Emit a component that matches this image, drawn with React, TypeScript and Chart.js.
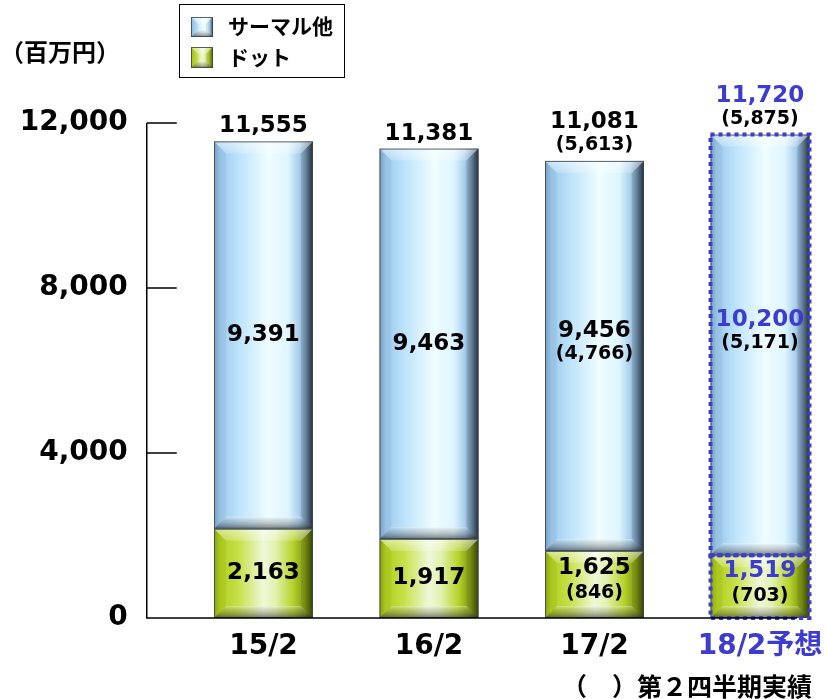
import React, { useEffect, useRef } from 'react';
import { Chart, registerables } from 'chart.js';
Chart.register(...registerables);

const categories = ['15/2', '16/2', '17/2', '18/2予想'];
const dotValues = [2163, 1917, 1625, 1519];
const thermalValues = [9391, 9463, 9456, 10200];
const totalValues = [11555, 11381, 11081, 11720];
const dotQ2: (number | null)[] = [null, null, 846, 703];
const thermalQ2: (number | null)[] = [null, null, 4766, 5171];
const totalQ2: (number | null)[] = [null, null, 5613, 5875];
const yTicks = [0, 4000, 8000, 12000];
const seriesNames = ['サーマル他', 'ドット'];
const unitLabel = '（百万円）';
const noteLabel = '（　）第２四半期実績';
const forecastIndex = 3;

const CANVAS_W = 860;
const CANVAS_H = 699;
const NUM = '"DejaVu Sans", "Noto Sans CJK JP", sans-serif';
const JP = '"Noto Sans CJK JP", "DejaVu Sans", sans-serif';
const BLUE = '#3c3cd0';

const blueStops: [number, string][] = [
  [0, '#7ea6c8'], [0.06, '#9cc9ee'], [0.25, '#bde3fb'], [0.55, '#effdff'],
  [0.75, '#def5ff'], [0.86, '#a8cfec'], [0.93, '#6c8aa6'], [1, '#24313d'],
];
const greenStops: [number, string][] = [
  [0, '#8eaa12'], [0.06, '#b0cf1e'], [0.25, '#c8e04a'], [0.5, '#eef8d8'],
  [0.62, '#e2f2b0'], [0.8, '#b6d22a'], [0.92, '#7e9614'], [1, '#3a4606'],
];

const fmt = (v: number) => v.toLocaleString('en-US');

function bevel(ctx: CanvasRenderingContext2D, x0: number, y0: number, x1: number, y1: number, stops: [number, string][], b: number) {
  const w = x1 - x0, h = y1 - y0;
  const bb = Math.min(b, h / 2, w / 2);
  const g = ctx.createLinearGradient(x0, 0, x1, 0);
  stops.forEach(([o, c]) => g.addColorStop(o, c));
  ctx.fillStyle = g;
  ctx.fillRect(x0, y0, w, h);
  const tg = ctx.createLinearGradient(0, y0, 0, y0 + bb);
  tg.addColorStop(0, 'rgba(255,255,255,0.55)');
  tg.addColorStop(1, 'rgba(255,255,255,0.2)');
  ctx.beginPath();
  ctx.moveTo(x0, y0); ctx.lineTo(x1, y0); ctx.lineTo(x1 - bb, y0 + bb); ctx.lineTo(x0 + bb, y0 + bb); ctx.closePath();
  ctx.fillStyle = tg; ctx.fill();
  const bg = ctx.createLinearGradient(0, y1 - bb, 0, y1);
  bg.addColorStop(0, 'rgba(255,255,255,0.35)');
  bg.addColorStop(0.35, 'rgba(110,110,110,0.25)');
  bg.addColorStop(1, 'rgba(20,20,20,0.55)');
  ctx.beginPath();
  ctx.moveTo(x0, y1); ctx.lineTo(x1, y1); ctx.lineTo(x1 - bb, y1 - bb); ctx.lineTo(x0 + bb, y1 - bb); ctx.closePath();
  ctx.fillStyle = bg; ctx.fill();
  ctx.beginPath();
  ctx.moveTo(x0, y0); ctx.lineTo(x0 + bb, y0 + bb); ctx.lineTo(x0 + bb, y1 - bb); ctx.lineTo(x0, y1); ctx.closePath();
  ctx.fillStyle = 'rgba(0,0,0,0.04)'; ctx.fill();
  ctx.beginPath();
  ctx.moveTo(x1, y0); ctx.lineTo(x1 - bb, y0 + bb); ctx.lineTo(x1 - bb, y1 - bb); ctx.lineTo(x1, y1); ctx.closePath();
  ctx.fillStyle = 'rgba(0,0,0,0.08)'; ctx.fill();
  ctx.strokeStyle = 'rgba(60,70,80,0.85)';
  ctx.lineWidth = 1;
  ctx.strokeRect(x0 + 0.5, y0 + 0.5, w - 1, h - 1);
}

function text(ctx: CanvasRenderingContext2D, s: string, x: number, y: number, font: string, color: string, align: CanvasTextAlign = 'center') {
  ctx.font = font;
  ctx.fillStyle = color;
  ctx.textAlign = align;
  ctx.textBaseline = 'middle';
  ctx.fillText(s, x, y);
}

const decor = {
  id: 'decor',
  afterDatasetsDraw(chart: any) {
    const ctx: CanvasRenderingContext2D = chart.ctx;
    const area = chart.chartArea;
    const yScale = chart.scales.y;
    const metaDot = chart.getDatasetMeta(0);
    const metaTh = chart.getDatasetMeta(1);
    ctx.save();
    for (let j = 0; j < categories.length; j++) {
      const d = metaDot.data[j].getProps(['x', 'y', 'base', 'width'], true);
      const t = metaTh.data[j].getProps(['x', 'y', 'base', 'width'], true);
      bevel(ctx, d.x - d.width / 2, d.y, d.x + d.width / 2, d.base, greenStops, 12);
      bevel(ctx, t.x - t.width / 2, t.y, t.x + t.width / 2, t.base, blueStops, 12);
      if (j === forecastIndex) {
        ctx.save();
        ctx.strokeStyle = BLUE;
        ctx.lineWidth = 4;
        ctx.setLineDash([4, 4]);
        [d, t].forEach((e) => {
          ctx.strokeRect(e.x - e.width / 2, e.y, e.width, e.base - e.y);
        });
        ctx.restore();
      }
    }
    const axX = area.left - 34;
    ctx.strokeStyle = '#000';
    ctx.lineWidth = 1.5;
    ctx.beginPath();
    ctx.moveTo(axX, yScale.getPixelForValue(yTicks[yTicks.length - 1]));
    ctx.lineTo(axX, area.bottom);
    ctx.lineTo(797, area.bottom);
    yTicks.forEach((v) => {
      const py = yScale.getPixelForValue(v);
      ctx.moveTo(axX, py);
      ctx.lineTo(axX + 30, py);
    });
    ctx.stroke();

    const mainFont = `bold 23px ${NUM}`;
    const parFont = `bold 19px ${NUM}`;
    for (let j = 0; j < categories.length; j++) {
      const d = metaDot.data[j].getProps(['x', 'y', 'base'], true);
      const t = metaTh.data[j].getProps(['x', 'y', 'base'], true);
      const mc = j === forecastIndex ? BLUE : '#000';
      if (totalQ2[j] != null) {
        text(ctx, fmt(totalValues[j]), t.x, t.y - 39, mainFont, mc);
        text(ctx, `(${fmt(totalQ2[j] as number)})`, t.x, t.y - 16, parFont, '#000');
      } else {
        text(ctx, fmt(totalValues[j]), t.x, t.y - 15, mainFont, mc);
      }
      const tc = (t.y + t.base) / 2;
      if (thermalQ2[j] != null) {
        text(ctx, fmt(thermalValues[j]), t.x, tc - 25, mainFont, mc);
        text(ctx, `(${fmt(thermalQ2[j] as number)})`, t.x, tc - 2, parFont, '#000');
      } else {
        text(ctx, fmt(thermalValues[j]), t.x, tc, mainFont, mc);
      }
      const dc = (d.y + d.base) / 2;
      if (dotQ2[j] != null) {
        text(ctx, fmt(dotValues[j]), d.x, dc - 16, mainFont, mc);
        text(ctx, `(${fmt(dotQ2[j] as number)})`, d.x, dc + 9, parFont, '#000');
      } else {
        text(ctx, fmt(dotValues[j]), d.x, dc, mainFont, mc);
      }
    }

    text(ctx, unitLabel, 0, 52, `bold 24px ${JP}`, '#000', 'left');
    text(ctx, noteLabel, 562, 686, `bold 25px ${JP}`, '#000', 'left');

    ctx.strokeStyle = '#000';
    ctx.lineWidth = 1;
    ctx.strokeRect(179.5, 4.5, 165, 73);
    bevel(ctx, 191, 17, 213, 37, blueStops, 7);
    bevel(ctx, 191, 47, 213, 68, greenStops, 7);
    text(ctx, seriesNames[0], 228, 26, `bold 21px ${JP}`, '#000', 'left');
    text(ctx, seriesNames[1], 228, 57, `bold 21px ${JP}`, '#000', 'left');
    ctx.restore();
  },
};

export default function App() {
  const ref = useRef<HTMLCanvasElement>(null);
  useEffect(() => {
    const canvas = ref.current!;
    const chart = new Chart(canvas, {
      type: 'bar',
      data: {
        labels: categories,
        datasets: [
          { label: seriesNames[1], data: dotValues, backgroundColor: 'rgba(0,0,0,0)', stack: 's' },
          { label: seriesNames[0], data: thermalValues, backgroundColor: 'rgba(0,0,0,0)', stack: 's' },
        ],
      },
      options: {
        responsive: false,
        animation: false,
        devicePixelRatio: 1,
        layout: { padding: { top: 123, left: 0, right: CANVAS_W - 842.75, bottom: 0 } },
        plugins: { legend: { display: false }, tooltip: { enabled: false } },
        datasets: { bar: { categoryPercentage: 1, barPercentage: 0.598 } },
        scales: {
          x: {
            stacked: true,
            grid: { display: false, drawTicks: false },
            border: { display: false },
            ticks: {
              padding: 12,
              font: { family: NUM, size: 28, weight: 'bold' },
              color: (c: any) => (c.index === forecastIndex ? BLUE : '#000'),
            },
            afterFit: (s: any) => { s.height = 81; },
          },
          y: {
            stacked: true,
            min: 0,
            max: 12000,
            grid: { display: false, drawTicks: false },
            border: { display: false },
            afterBuildTicks: (s: any) => { s.ticks = yTicks.map((v) => ({ value: v })); },
            ticks: {
              padding: 53,
              font: { family: NUM, size: 28, weight: 'bold' },
              color: '#000',
              callback: (v: any) => fmt(Number(v)),
            },
            afterFit: (s: any) => { s.width = 180.75; },
          },
        },
      } as any,
      plugins: [decor],
    });
    return () => chart.destroy();
  }, []);
  return (
    <div style={{ position: 'absolute', left: 0, top: 0, width: 828, height: 699, overflow: 'hidden', background: '#fff' }}>
      <canvas ref={ref} width={CANVAS_W} height={CANVAS_H} style={{ display: 'block', width: CANVAS_W, height: CANVAS_H }} />
    </div>
  );
}
